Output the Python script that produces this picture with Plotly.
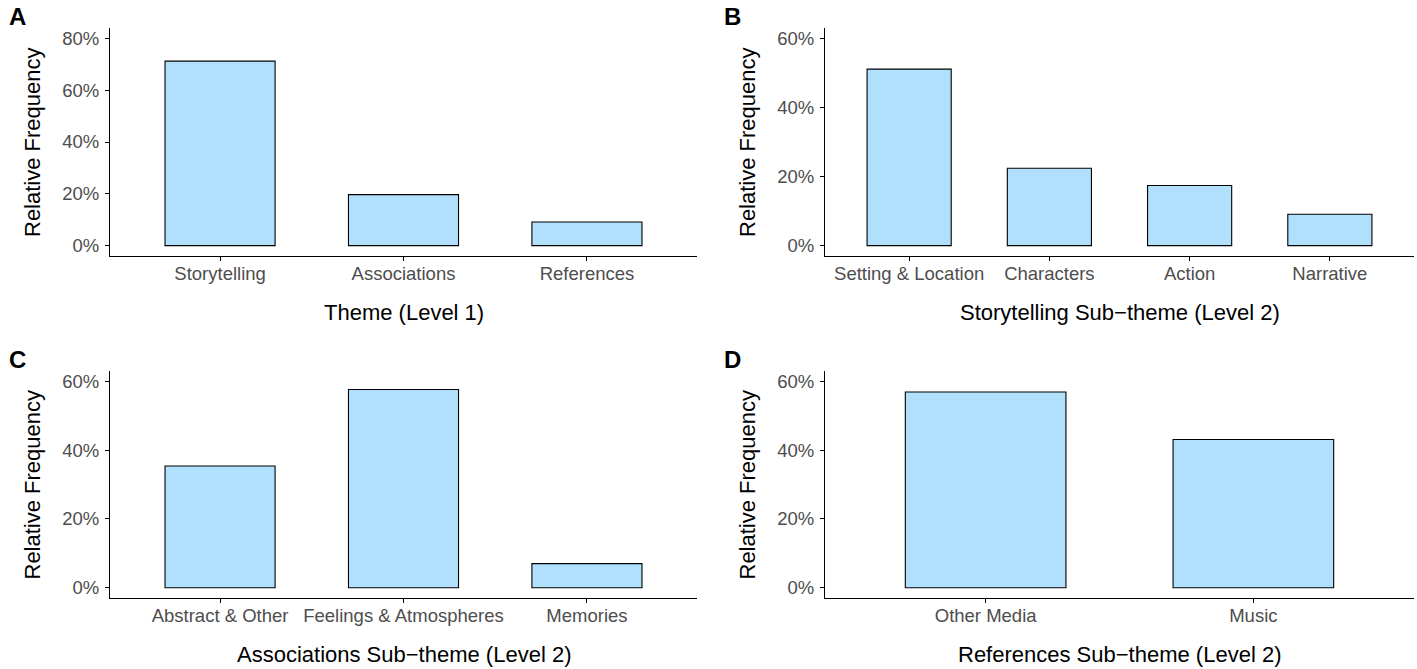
import plotly.graph_objects as go

# ---- data ----
theme_cats = ["Storytelling", "Associations", "References"]
theme_vals = [71.2, 19.7, 9.1]

story_cats = ["Setting & Location", "Characters", "Action", "Narrative"]
story_vals = [51.1, 22.4, 17.4, 9.1]

assoc_cats = ["Abstract & Other", "Feelings & Atmospheres", "Memories"]
assoc_vals = [35.4, 57.6, 7.0]

ref_cats = ["Other Media", "Music"]
ref_vals = [56.9, 43.1]

panel_letters = ["A", "B", "C", "D"]
x_titles = ["Theme (Level 1)", "Storytelling Sub\u2212theme (Level 2)",
            "Associations Sub\u2212theme (Level 2)", "References Sub\u2212theme (Level 2)"]
y_title = "Relative Frequency"
y_ticks_list = [[0, 20, 40, 60, 80], [0, 20, 40, 60], [0, 20, 40, 60], [0, 20, 40, 60]]
y_max_list = [80, 60, 60, 60]

W, H = 1417, 669
FILL = "#B0E0FC"
FONT = "Liberation Sans, Arial, Helvetica, sans-serif"

# panel pixel boxes (left, right, top, bottom)
boxes = [(110, 697, 28, 256), (825, 1414, 28, 256),
         (110, 697, 371, 598), (825, 1414, 371, 598)]

data = [(theme_cats, theme_vals), (story_cats, story_vals),
        (assoc_cats, assoc_vals), (ref_cats, ref_vals)]

fig = go.Figure()
annotations = []
layout = {}
for i, ((cats, vals), box) in enumerate(zip(data, boxes)):
    n = i + 1
    xa = "x" if n == 1 else f"x{n}"
    ya = "y" if n == 1 else f"y{n}"
    fig.add_trace(go.Bar(x=cats, y=vals, xaxis=xa, yaxis=ya, width=0.6,
                         marker=dict(color=FILL, line=dict(color="black", width=1.1)),
                         showlegend=False, hoverinfo="x+y"))
    l, r, t, b = box
    xd = [l / W, r / W]
    yd = [1 - b / H, 1 - t / H]
    ymax = y_max_list[i]
    exp = ymax * 0.05
    axis_common = dict(showline=True, linecolor="black", linewidth=1.2,
                       ticks="outside", ticklen=4, tickwidth=1.1, tickcolor="black",
                       showgrid=False, zeroline=False,
                       tickfont=dict(family=FONT, size=18.5, color="#4D4D4D"))
    layout["xaxis" if n == 1 else f"xaxis{n}"] = dict(
        domain=xd, anchor=ya, range=[-0.6, len(cats) - 0.4], type="category",
        categoryorder="array", categoryarray=cats, ticklabelstandoff=-3, **axis_common)
    layout["yaxis" if n == 1 else f"yaxis{n}"] = dict(
        domain=yd, anchor=xa, range=[-exp, ymax + exp], tickmode="array",
        tickvals=y_ticks_list[i], ticktext=[f"{v}%" for v in y_ticks_list[i]],
        ticklabelstandoff=2, **axis_common)
    # panel letter
    annotations.append(dict(text=f"<b>{panel_letters[i]}</b>", xref="paper", yref="paper",
                            x=(l - 103) / W, y=1 - (t - 12) / H, xanchor="left", yanchor="middle",
                            showarrow=False, font=dict(family=FONT, size=24, color="black")))
    # x-axis title
    annotations.append(dict(text=x_titles[i], xref="paper", yref="paper",
                            x=(l + r) / 2 / W, y=1 - (b + 56) / H, xanchor="center", yanchor="middle",
                            showarrow=False, font=dict(family=FONT, size=22, color="black")))
    # y-axis title
    annotations.append(dict(text=y_title, xref="paper", yref="paper", textangle=-90,
                            x=(l - 78) / W, y=1 - (t + b) / 2 / H, xanchor="center", yanchor="middle",
                            showarrow=False, font=dict(family=FONT, size=22, color="black")))

fig.update_layout(width=W, height=H, margin=dict(l=0, r=0, t=0, b=0),
                  plot_bgcolor="white", paper_bgcolor="white",
                  font=dict(family=FONT), annotations=annotations, bargap=0.4, **layout)

fig.write_html("out.html", config={"displayModeBar": False},
               post_script="document.body.style.margin='0px';document.body.style.overflow='hidden';")
